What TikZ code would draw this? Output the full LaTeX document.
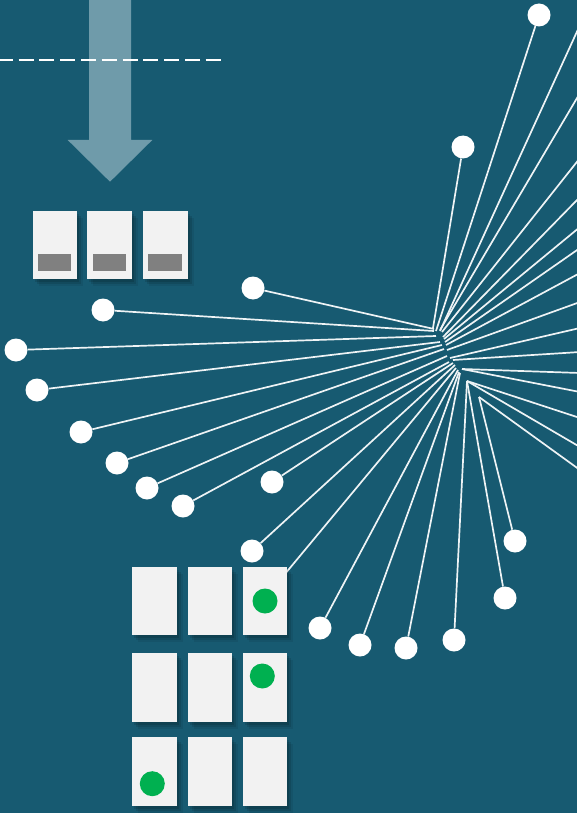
\documentclass[tikz,border=0pt]{standalone}
\usetikzlibrary{shadows}
\definecolor{bg}{HTML}{175A71}
\definecolor{arrowc}{HTML}{6F9BAA}
\definecolor{cardc}{HTML}{F2F2F2}
\definecolor{barc}{HTML}{808080}
\definecolor{grn}{HTML}{00B050}
\definecolor{wirec}{HTML}{EEF3F5}
\tikzset{
  softshadow/.style={
    general shadow={shadow xshift=2pt,shadow yshift=-3pt,fill=black,opacity=.12},
    general shadow={shadow xshift=4pt,shadow yshift=-5pt,fill=black,opacity=.10},
    general shadow={shadow xshift=6pt,shadow yshift=-7pt,fill=black,opacity=.07}},
  cardbox/.style={rectangle,fill=cardc,inner sep=0pt,softshadow},
  barbox/.style={rectangle,fill=barc,inner sep=0pt,minimum height=16.7pt},
  wdot/.style={circle,fill=white,inner sep=0pt,minimum size=23pt},
  gdot/.style={circle,fill=grn,inner sep=0pt,minimum size=25pt},
  wire/.style={draw=wirec,line width=1.7pt},
}
\begin{document}
\begin{tikzpicture}[x=1pt,y=-1pt]
\useasboundingbox (0,0) rectangle (577,813);
\clip (0,0) rectangle (577,813);
\fill[bg] (0,0) rectangle (577,813);

% big arrow
\fill[arrowc] (89,-2) -- (131,-2) -- (131,140) -- (152.3,140) -- (110,181.7)
  -- (67.7,140) -- (89,140) -- cycle;
% dashed line
\coordinate (dl) at (0,60);
\coordinate (dr) at (222.7,60);
\draw[white,line width=1.8pt,dash pattern=on 15pt off 5.8pt,dash phase=2.3pt] (dl) -- (dr);

% white dots
\foreach \n/\x/\y in {a/539/15,b/463/147,c/253/288,d/103/310,e/16/350,f/37/390,
  g/81/432,h/117/463,i/147/488,j/183/506,k/272/482,l/252/551,n/320/628,
  o/360/645,p/406/648,q/454/640,r/505/598,s/515/541}
  \node[wdot] (d\n) at (\x,\y) {};
\coordinate (dm) at (270,592);

% hub lines to dots
\foreach \n/\hx/\hy in {a/436/331,b/433/328,c/434/329,d/434/331,e/436/336,
  f/440/342,g/442/345,h/444/349,i/447/356,j/449/362,k/453/363,l/455/365,
  m/456/368,n/458/370,o/459/372,p/460/373,q/467/381,r/467/381,s/479/397}
{
  \coordinate (h\n) at (\hx,\hy);
  \draw[wire] (h\n) -- (d\n);
}

% hub lines off the right edge
\foreach \k/\ey/\hx/\hy in {1/25/440/331,2/93/440/330,3/158/442/332,4/197/443/337,
  5/227/444/339,6/248/445/342,7/273/446/345,8/302/447/350,9/328/450/358,
  10/352/453/360,11/373/462/369,12/392/462/369,13/418/467/381,14/447/467/381,
  15/470/479/397}
{
  \coordinate (r\k) at (\hx,\hy);
  \coordinate (e\k) at (580,\ey);
  \draw[wire] (r\k) -- (e\k);
}

% top cards
\node[cardbox,minimum width=44pt,minimum height=67.7pt] (t1) at (55,244.8) {};
\node[cardbox,minimum width=45pt,minimum height=67.7pt] (t2) at (109.5,244.8) {};
\node[cardbox,minimum width=45pt,minimum height=67.7pt] (t3) at (165.5,244.8) {};
\node[barbox,minimum width=33pt] (tb1) at (54.5,262.3) {};
\node[barbox,minimum width=33pt] (tb2) at (109.5,262.3) {};
\node[barbox,minimum width=34pt] (tb3) at (165,262.3) {};

% bottom grid of cards
\foreach \c/\cx/\w in {1/154.5/45,2/210/44,3/265/44}
  \foreach \r/\ry/\h in {1/601/68,2/687.5/69,3/771.5/69}
    \node[cardbox,minimum width=\w pt,minimum height=\h pt] (g\r\c) at (\cx,\ry) {};

% green dots
\node[gdot] (gd1) at (265,601) {};
\node[gdot] (gd2) at (262.3,676) {};
\node[gdot] (gd3) at (152.3,783.7) {};
\end{tikzpicture}
\end{document}
